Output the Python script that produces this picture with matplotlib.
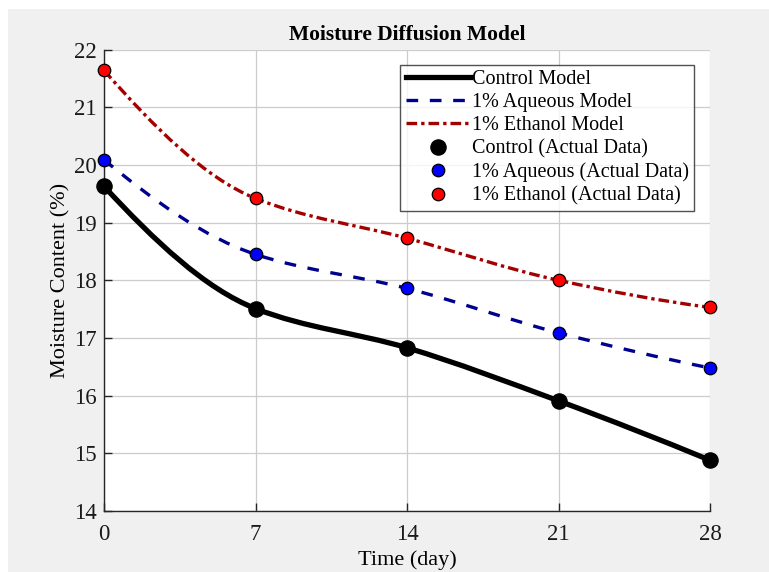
import numpy as np
import matplotlib
matplotlib.use("Agg")
import matplotlib.pyplot as plt
from matplotlib.path import Path
from matplotlib.patches import PathPatch, Rectangle
from matplotlib.lines import Line2D

days = [0, 7, 14, 21, 28]
control = [19.63, 17.51, 16.83, 15.91, 14.88]
aqueous = [20.09, 18.45, 17.86, 17.09, 16.48]
ethanol = [21.64, 19.42, 18.73, 18.00, 17.53]
xticks = [0, 7, 14, 21, 28]
yticks = [14, 15, 16, 17, 18, 19, 20, 21, 22]

plt.rcParams['font.family'] = ['Liberation Serif', 'DejaVu Serif']


def pchip_slopes(x, y):
    x = np.asarray(x, float); y = np.asarray(y, float)
    h = np.diff(x); d = np.diff(y) / h
    n = len(x); m = np.zeros(n)
    for k in range(1, n - 1):
        if d[k - 1] * d[k] > 0:
            w1 = 2 * h[k] + h[k - 1]; w2 = h[k] + 2 * h[k - 1]
            m[k] = (w1 + w2) / (w1 / d[k - 1] + w2 / d[k])
    def end(h0, h1, d0, d1):
        s = ((2 * h0 + h1) * d0 - h0 * d1) / (h0 + h1)
        if np.sign(s) != np.sign(d0):
            s = 0
        elif np.sign(d0) != np.sign(d1) and abs(s) > abs(3 * d0):
            s = 3 * d0
        return s
    m[0] = end(h[0], h[1], d[0], d[1])
    m[-1] = end(h[-1], h[-2], d[-1], d[-2])
    return m


def hermite_path(x, y):
    m = pchip_slopes(x, y)
    verts = [(x[0], y[0])]; codes = [Path.MOVETO]
    for k in range(len(x) - 1):
        h = x[k + 1] - x[k]
        verts += [(x[k] + h / 3, y[k] + m[k] * h / 3),
                  (x[k + 1] - h / 3, y[k + 1] - m[k + 1] * h / 3),
                  (x[k + 1], y[k + 1])]
        codes += [Path.CURVE4] * 3
    return Path(verts, codes)


fig = plt.figure(figsize=(7.69, 5.72), dpi=100, facecolor='white')
fig.patches.append(Rectangle((8 / 769, 0), 1, 1 - 9 / 572, transform=fig.transFigure,
                             facecolor='#f0f0f0', edgecolor='none', zorder=-10))
ax = fig.add_axes([104 / 769, 1 - 511 / 572, (710 - 104) / 769, (511 - 49.6) / 572])
ax.set_facecolor('white')

ax.set_xlim(0, 28)
ax.set_ylim(14, 22)
ax.set_xticks(xticks)
ax.set_yticks(yticks)
ax.grid(True, color='#cccccc', lw=0.9)
ax.set_axisbelow(True)
for s in ['top', 'right']:
    ax.spines[s].set_visible(False)
for s in ['left', 'bottom']:
    ax.spines[s].set_color('#262626')
    ax.spines[s].set_linewidth(1.0)
ax.tick_params(direction='in', length=6, width=1, colors='#262626', labelsize=16.5,
               labelcolor='#1a1a1a')
ax.tick_params(axis='x', pad=9)
ax.tick_params(axis='y', pad=5)

series = [
    (control, 'black', '-', 3.8, 'Control Model'),
    (aqueous, '#00008f', (0, (3.5, 3.5)), 2.4, '1% Aqueous Model'),
    (ethanol, '#a30000', (0, (3.2, 1.2, 1.0, 1.2)), 2.4, '1% Ethanol Model'),
]
handles = []
for vals, col, ls, lw, lab in series:
    p = PathPatch(hermite_path(days, vals), facecolor='none', edgecolor=col,
                  lw=lw, linestyle=ls, zorder=3, capstyle='butt')
    ax.add_patch(p)
    handles.append(Line2D([], [], color=col, lw=lw, linestyle=ls, label=lab))

markers = [
    (control, 'black', 11, 'Control (Actual Data)'),
    (aqueous, '#0000ff', 9, '1% Aqueous (Actual Data)'),
    (ethanol, '#ff0000', 9, '1% Ethanol (Actual Data)'),
]
for vals, col, ms, lab in markers:
    h, = ax.plot(days, vals, 'o', color=col, markersize=ms, markeredgecolor='black',
                 markeredgewidth=0.9, linestyle='none', zorder=5, label=lab, clip_on=False)
    handles.append(h)

leg = ax.legend(handles=handles, loc='upper right', bbox_to_anchor=(694 / 769, 1 - 65 / 572),
                bbox_transform=fig.transFigure, fontsize=14.5, frameon=True,
                fancybox=False, edgecolor='#262626', handlelength=3.2, handletextpad=0.1,
                labelspacing=0.2, borderpad=0.25, borderaxespad=0)
leg.get_frame().set_linewidth(1.0)

ax.set_title('Moisture Diffusion Model', fontsize=15.5, fontweight='bold', pad=7)
ax.set_xlabel('Time (day)', fontsize=16, labelpad=4)
ax.set_ylabel('Moisture Content (%)', fontsize=16, labelpad=3)

fig.savefig('out.png', dpi=100, facecolor=fig.get_facecolor())
